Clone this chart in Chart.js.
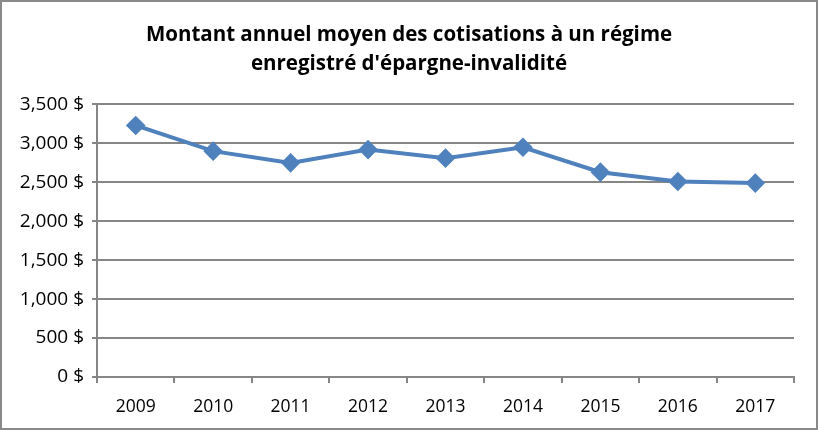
<!DOCTYPE html>
<html>
<head>
<meta charset="utf-8">
<script src="https://cdn.jsdelivr.net/npm/chart.js@4.4.1/dist/chart.umd.min.js"></script>
<style>
  body { margin: 0; background: #fff; }
  #wrap { position: relative; width: 818px; height: 430px; }
  #frame { position: absolute; left: 0; top: 0; width: 818px; height: 430px; box-sizing: border-box; border: 2px solid #898989; pointer-events: none; }
</style>
</head>
<body>
<div id="wrap">
  <canvas id="lineChart" width="818" height="430"></canvas>
  <div id="frame"></div>
</div>
<script>
// Données
const annees = ["2009", "2010", "2011", "2012", "2013", "2014", "2015", "2016", "2017"];
const montants = [3230, 2900, 2750, 2920, 2810, 2950, 2630, 2510, 2490];
const titre = ["Montant annuel moyen des cotisations à un régime", "enregistré d'épargne-invalidité"];
const yMax = 3500;
const yPas = 500;

const police = "'Open Sans', sans-serif";
const gris = "#868686";

// recentrer le titre sur toute la largeur
const centrerTitre = {
    id: 'centrerTitre',
    afterLayout(chart) {
        if (chart.titleBlock) {
            chart.titleBlock.left += 12;
            chart.titleBlock.right += 12;
        }
    }
};

const ctx = document.getElementById('lineChart');
const chart = new Chart(ctx, {
    type: 'line',
    data: {
        labels: annees,
        datasets: [{
            label: 'Montant',
            data: montants,
            borderColor: '#4F81BD',
            backgroundColor: '#4F81BD',
            borderWidth: 4,
            pointStyle: 'rectRot',
            pointRadius: 7,
            pointHoverRadius: 7,
            tension: 0,
            fill: false
        }]
    },
    options: {
        responsive: false,
        animation: false,
        layout: { padding: { top: 20, right: 24, bottom: 8, left: 0 } },
        plugins: {
            legend: { display: false },
            tooltip: { enabled: false },
            title: {
                display: true,
                text: titre,
                color: '#000',
                font: { family: police, size: 20.5, weight: 'bold', lineHeight: 1.45 },
                padding: { top: 0, bottom: 25 }
            }
        },
        scales: {
            x: {
                offset: true,
                grid: {
                    offset: true,
                    drawOnChartArea: false,
                    drawTicks: true,
                    tickLength: 6,
                    color: gris,
                    lineWidth: 2
                },
                border: { color: gris, width: 2 },
                ticks: { color: '#000', font: { family: police, size: 17.5 }, padding: 14 },
                afterFit: s => { s.height = 45; }
            },
            y: {
                min: 0,
                max: yMax,
                ticks: {
                    stepSize: yPas,
                    color: '#000',
                    font: { family: police, size: 19 },
                    padding: 8,
                    callback: v => v.toLocaleString('en-US') + ' $'
                },
                grid: { color: gris, lineWidth: 2, tickLength: 5 },
                border: { color: gris, width: 2 },
                afterFit: s => { s.width = 97; }
            }
        }
    },
    plugins: [centrerTitre]
});
</script>
</body>
</html>
